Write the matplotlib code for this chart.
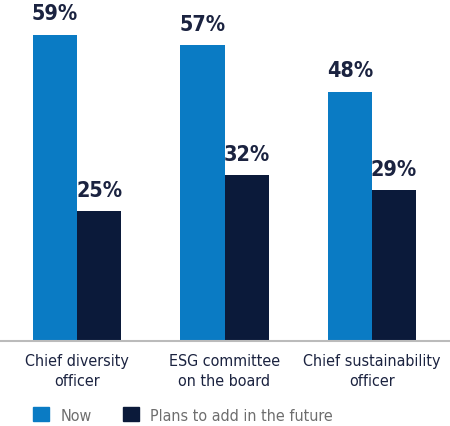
import numpy as np
import matplotlib.pyplot as plt
from matplotlib.patches import Patch

categories = ["Chief diversity\nofficer", "ESG committee\non the board", "Chief sustainability\nofficer"]
now = [59, 57, 48]
plans = [25, 32, 29]
series_names = ["Now", "Plans to add in the future"]

blue = "#0A7BC4"
navy = "#0B1A3A"
text_col = "#1B2340"

plt.rcParams['font.family'] = ['DejaVu Sans']
plt.rcParams['font.stretch'] = 'condensed'

fig = plt.figure(figsize=(4.5, 4.27), dpi=100)
ax = fig.add_axes([0, 85 / 427, 1, 342 / 427])

x = np.arange(len(categories))
w = 0.3
b1 = ax.bar(x - w / 2, now, w, color=blue)
b2 = ax.bar(x + w / 2, plans, w, color=navy)

for bars, vals in ((b1, now), (b2, plans)):
    for r, v in zip(bars, vals):
        ax.text(r.get_x() + r.get_width() / 2, v + 2.2, f"{v}%", ha="center", va="bottom",
                fontsize=15.5, fontweight="bold", color=text_col, fontstretch="condensed")

ax.set_xlim(-77 / 147.5, (450 - 77) / 147.5)
ax.set_ylim(0, 342 / 5.19)
ax.set_xticks(x)
ax.set_xticklabels(categories, fontsize=11.5, color=text_col, linespacing=1.4,
                   fontstretch="condensed")
ax.tick_params(axis="x", length=0, pad=9)
ax.set_yticks([])
for s in ["top", "right", "left"]:
    ax.spines[s].set_visible(False)
ax.spines["bottom"].set_color("#BBBBBB")
ax.spines["bottom"].set_linewidth(1.5)

handles = [Patch(color=blue), Patch(color=navy)]
leg = fig.legend(handles, series_names, loc="center left", bbox_to_anchor=(33 / 450, 11 / 427),
                 ncol=2, frameon=False, fontsize=11.5, handlelength=1.0, handleheight=1.0,
                 handletextpad=0.75, columnspacing=1.9, borderpad=0, borderaxespad=0)
for t in leg.get_texts():
    t.set_color("#6E6E6E")
    t.set_fontstretch("condensed")

fig.savefig("out.png", dpi=100)
